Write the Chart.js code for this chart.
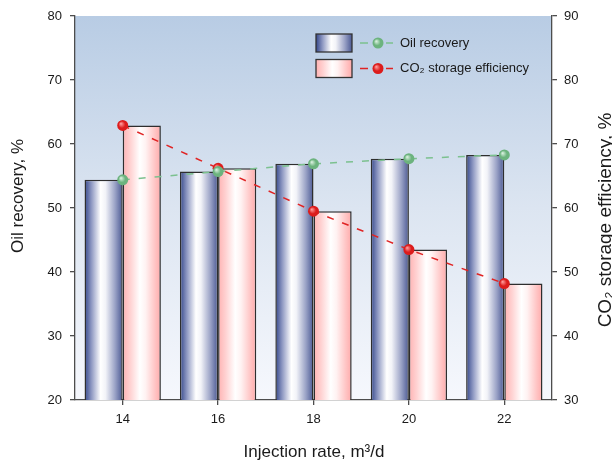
<!DOCTYPE html>
<html>
<head>
<meta charset="utf-8">
<script src="https://cdn.jsdelivr.net/npm/chart.js@4.4.1/dist/chart.umd.min.js"></script>
<style>
  html, body { margin: 0; padding: 0; background: #ffffff; }
  #wrap { width: 612px; height: 462px; }
</style>
</head>
<body>
<div id="wrap"><canvas id="chart" width="612" height="462"></canvas></div>
<script>
// data
const injectionRates = ['14', '16', '18', '20', '22'];
const oilRecovery = [54.4, 55.7, 56.9, 57.7, 58.3];      // left axis, %
const co2Storage = [72.9, 66.2, 59.5, 53.5, 48.2];       // right axis, %
const leftAxisRange = [20, 80];
const rightAxisRange = [30, 90];

const axisColor = '#4d4d4d';
const fontName = '"Liberation Sans", Arial, sans-serif';

// horizontal "cylinder" shading for each bar (side -1 = left bar, +1 = right bar)
function barGradient(ctx, stops, side) {
    const chart = ctx.chart;
    if (!chart.chartArea || ctx.type !== 'data') return stops[0][1];
    const c = chart.scales.x.getPixelForValue(ctx.dataIndex);
    const half = chart.chartArea.width / injectionRates.length * 0.8 / 2;
    const x0 = side < 0 ? c - half : c;
    const g = chart.ctx.createLinearGradient(x0, 0, x0 + half, 0);
    stops.forEach(s => g.addColorStop(s[0], s[1]));
    return g;
}
const blueStops = [[0, '#33468a'], [0.18, '#8e98c2'], [0.42, '#ffffff'], [0.55, '#f2f3f8'], [0.8, '#9aa2c6'], [1, '#4a5893']];
const pinkStops = [[0, '#ffb2b2'], [0.2, '#ffd2d2'], [0.45, '#ffffff'], [0.6, '#fff2f2'], [0.85, '#ffc4c4'], [1, '#ffaaaa']];

// shiny ball for each point
function ballGradient(ctx, axisId, light, dark) {
    const chart = ctx.chart;
    if (!chart.chartArea || ctx.type !== 'data') return dark;
    const x = chart.scales.x.getPixelForValue(ctx.dataIndex);
    const y = chart.scales[axisId].getPixelForValue(ctx.raw);
    return makeBall(chart.ctx, x, y, light, dark);
}
function makeBall(c, x, y, light, dark) {
    const g = c.createRadialGradient(x - 1.8, y - 1.8, 0.3, x, y, 6);
    g.addColorStop(0, light);
    g.addColorStop(0.55, dark);
    g.addColorStop(1, dark);
    return g;
}

const plotBackground = {
    id: 'plotBackground',
    beforeDraw(chart) {
        const c = chart.ctx, a = chart.chartArea;
        c.save();
        c.fillStyle = '#ffffff';
        c.fillRect(0, 0, chart.width, chart.height);
        const g = c.createLinearGradient(0, a.top, 0, a.bottom);
        g.addColorStop(0, '#b8cce4');
        g.addColorStop(0.5, '#dce5f1');
        g.addColorStop(1, '#f6f8fd');
        c.fillStyle = g;
        c.fillRect(a.left, a.top, a.right - a.left, a.bottom - a.top);
        c.restore();
    }
};

// axis titles (right one reads bottom-to-top like the left one)
const axisTitles = {
    id: 'axisTitles',
    afterDraw(chart) {
        const c = chart.ctx;
        c.save();
        c.fillStyle = '#1a1a1a';
        c.textAlign = 'center';
        c.textBaseline = 'middle';
        c.font = '17px ' + fontName;
        c.fillText('Injection rate, m\u00b3/d', 314, 452);

        c.translate(18, 196);
        c.rotate(-Math.PI / 2);
        c.fillText('Oil recovery, %', 0, 0);
        c.restore();

        c.save();
        c.fillStyle = '#1a1a1a';
        c.textAlign = 'center';
        c.textBaseline = 'middle';
        c.font = '19px ' + fontName;
        c.translate(606, 220);
        c.rotate(-Math.PI / 2);
        c.fillText('CO\u2082 storage efficiency, %', 0, 0);
        c.restore();
    }
};

// legend box: bar swatch + line-with-dot swatch + label
const comboLegend = {
    id: 'comboLegend',
    afterDatasetsDraw(chart) {
        const c = chart.ctx;
        const rows = [
            { y: 43, stops: blueStops, line: '#7cc18f', light: '#d8f0de', dark: '#6cb37e', text: 'Oil recovery' },
            { y: 68.5, stops: pinkStops, line: '#e02424', light: '#ff9a9a', dark: '#dc1c1c', text: 'CO\u2082 storage efficiency' }
        ];
        rows.forEach(r => {
            c.save();
            const g = c.createLinearGradient(316, 0, 352, 0);
            r.stops.forEach(s => g.addColorStop(s[0], s[1]));
            c.fillStyle = g;
            c.fillRect(316, r.y - 9, 36, 18);
            c.strokeStyle = '#333333';
            c.lineWidth = 1.3;
            c.strokeRect(316, r.y - 9, 36, 18);

            c.strokeStyle = r.line;
            c.lineWidth = 1.5;
            c.beginPath();
            c.moveTo(360, r.y); c.lineTo(368, r.y);
            c.moveTo(386, r.y); c.lineTo(393, r.y);
            c.stroke();
            c.fillStyle = makeBall(c, 378, r.y, r.light, r.dark);
            c.beginPath();
            c.arc(378, r.y, 5.5, 0, Math.PI * 2);
            c.fill();

            c.fillStyle = '#1a1a1a';
            c.font = '13px ' + fontName;
            c.textAlign = 'left';
            c.textBaseline = 'middle';
            c.fillText(r.text, 400, r.y);
            c.restore();
        });
    }
};

function axisStyle() {
    return {
        grid: { drawOnChartArea: false, drawTicks: true, tickLength: 5, color: axisColor, lineWidth: 1.3 },
        border: { display: true, color: axisColor, width: 1.3 },
        ticks: { color: '#1a1a1a', font: { family: fontName, size: 13 }, padding: 7 }
    };
}

const xAxis = axisStyle();
xAxis.grid.offset = false;
xAxis.afterFit = (scale) => { scale.height = 62; };

const yLeft = axisStyle();
yLeft.position = 'left';
yLeft.min = leftAxisRange[0];
yLeft.max = leftAxisRange[1];
yLeft.ticks.stepSize = 10;
yLeft.ticks.padding = 8;
yLeft.afterFit = (scale) => { scale.width = 75; };

const yRight = axisStyle();
yRight.position = 'right';
yRight.min = rightAxisRange[0];
yRight.max = rightAxisRange[1];
yRight.ticks.stepSize = 10;
yRight.ticks.padding = 7;
yRight.afterFit = (scale) => { scale.width = 60; };

new Chart(document.getElementById('chart').getContext('2d'), {
    data: {
        labels: injectionRates,
        datasets: [
            {
                type: 'line',
                label: 'Oil recovery',
                data: oilRecovery,
                yAxisID: 'y',
                order: 1,
                borderColor: '#7cc18f',
                borderWidth: 1.5,
                borderDash: [7, 9],
                pointRadius: 5.5,
                pointBorderWidth: 0,
                pointBackgroundColor: (ctx) => ballGradient(ctx, 'y', '#d8f0de', '#6cb37e')
            },
            {
                type: 'line',
                label: 'CO2 storage efficiency',
                data: co2Storage,
                yAxisID: 'y2',
                order: 1,
                borderColor: '#e02424',
                borderWidth: 1.5,
                borderDash: [7, 9],
                pointRadius: 5.5,
                pointBorderWidth: 0,
                pointBackgroundColor: (ctx) => ballGradient(ctx, 'y2', '#ff9a9a', '#dc1c1c')
            },
            {
                type: 'bar',
                label: 'Oil recovery',
                data: oilRecovery,
                yAxisID: 'y',
                order: 2,
                backgroundColor: (ctx) => barGradient(ctx, blueStops, -1),
                borderColor: '#2e2e2e',
                borderWidth: 1.5,
                categoryPercentage: 0.8,
                barPercentage: 1.0
            },
            {
                type: 'bar',
                label: 'CO2 storage efficiency',
                data: co2Storage,
                yAxisID: 'y2',
                order: 2,
                backgroundColor: (ctx) => barGradient(ctx, pinkStops, 1),
                borderColor: '#2e2e2e',
                borderWidth: 1.5,
                categoryPercentage: 0.8,
                barPercentage: 1.0
            }
        ]
    },
    options: {
        responsive: false,
        animation: false,
        events: [],
        layout: { padding: { top: 16, left: 0, right: 0, bottom: 0 } },
        plugins: {
            legend: { display: false },
            tooltip: { enabled: false }
        },
        scales: {
            x: xAxis,
            y: yLeft,
            y2: yRight
        }
    },
    plugins: [plotBackground, comboLegend, axisTitles]
});
</script>
</body>
</html>
